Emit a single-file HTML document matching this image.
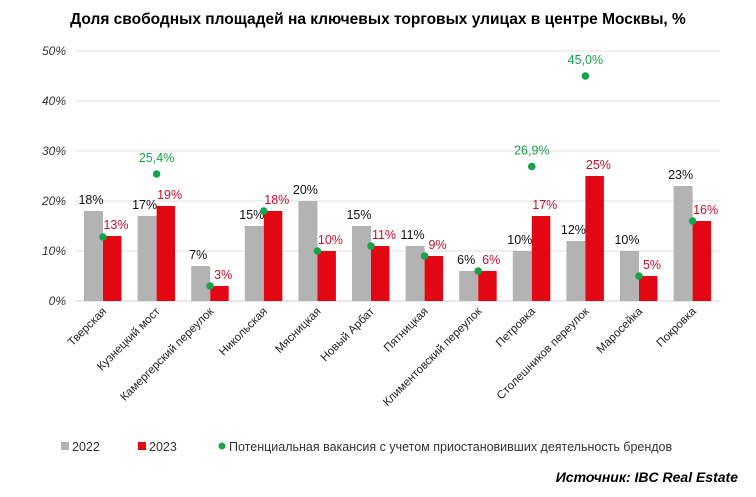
<!DOCTYPE html>
<html><head><meta charset="utf-8"><style>
body{margin:0;background:#fff;font-family:"Liberation Sans",sans-serif;}
svg text{font-family:"Liberation Sans",sans-serif;}
</style></head><body>
<svg width="756" height="492" viewBox="0 0 756 492">
<text x="378" y="24" text-anchor="middle" font-size="15.5" font-weight="bold" fill="#000">Доля свободных площадей на ключевых торговых улицах в центре Москвы, %</text>
<g id="grid"></g><g id="bars"></g><g id="xl"></g>
<g>
<rect x="61" y="442" width="8" height="8" fill="#b3b3b3"/>
<text x="72" y="451" font-size="12.5" fill="#333">2022</text>
<rect x="138" y="442" width="8" height="8" fill="#e30613"/>
<text x="149" y="451" font-size="12.5" fill="#333">2023</text>
<circle cx="222" cy="446" r="3.5" fill="#16a34a"/>
<text x="229" y="451" font-size="12.5" fill="#333">Потенциальная вакансия с учетом приостановивших деятельность брендов</text>
</g>
<text x="738" y="482" text-anchor="end" font-size="14" font-weight="bold" font-style="italic" fill="#000">Источник: IBC Real Estate</text>
</svg>
<script>
const categories=["Тверская","Кузнецкий мост","Камергерский переулок","Никольская","Мясницкая","Новый Арбат","Пятницкая","Климентовский переулок","Петровка","Столешников переулок","Маросейка","Покровка"];
const values2022=[18,17,7,15,20,15,11,6,10,12,10,23];
const values2023=[13,19,3,18,10,11,9,6,17,25,5,16];
const potential=[12.8,25.4,3,18,10,11,9,6,26.9,45,5,16];
const potentialLabels=["","25,4%","","","","","","","26,9%","45,0%","",""];
const yTicks=[0,10,20,30,40,50];
const NS="http://www.w3.org/2000/svg";
const y=v=>301-v*5;
const xc=i=>103+i*53.6;
function mk(p,tag,a,t){const e=document.createElementNS(NS,tag);for(const k in a)e.setAttribute(k,a[k]);if(t!==undefined)e.textContent=t;p.appendChild(e);return e;}
const grid=document.getElementById('grid'),bars=document.getElementById('bars'),xl=document.getElementById('xl');
yTicks.forEach(t=>{
 const l=mk(grid,'line',{x1:75,x2:720,y1:y(t),y2:y(t),stroke:t===0?'#d0d0d0':'#e0e0e0','stroke-width':1});
 
 
 const tx=mk(grid,'text',{x:66,y:y(t)+4,'text-anchor':'end','font-size':12,'font-style':'italic',fill:'#333'},t+'%');
 
 
});
categories.forEach((c,i)=>{
 const cx=xc(i);
 const b1=mk(bars,'rect',{x:cx-19,y:y(values2022[i]),width:19,height:values2022[i]*5,fill:'#b3b3b3'});
 
 
 const b2=mk(bars,'rect',{x:cx,y:y(values2023[i]),width:18.5,height:values2023[i]*5,fill:'#e30613'});
 
 
 const t1=mk(bars,'text',{x:cx-12,y:y(values2022[i])-7,'text-anchor':'middle','font-size':12.5,fill:'#111'},values2022[i]+'%');
 
 
 const t2=mk(bars,'text',{x:cx+13,y:y(values2023[i])-7,'text-anchor':'middle','font-size':12.5,fill:'#c8102e'},values2023[i]+'%');
 
 
 const d=mk(bars,'circle',{cx:cx,cy:y(potential[i]),r:3.8,fill:'#16a34a'});
 
 
 if(potentialLabels[i]){
  const t3=mk(bars,'text',{x:cx,y:y(potential[i])-12,'text-anchor':'middle','font-size':12.5,fill:'#16a34a'},potentialLabels[i]);
  
  
 }
 const lx=mk(xl,'text',{x:0,y:0,'text-anchor':'end','font-size':11.5,fill:'#222',transform:`translate(${cx+4},${312}) rotate(-45)`},c);
 
 
});
</script>
</body></html>
